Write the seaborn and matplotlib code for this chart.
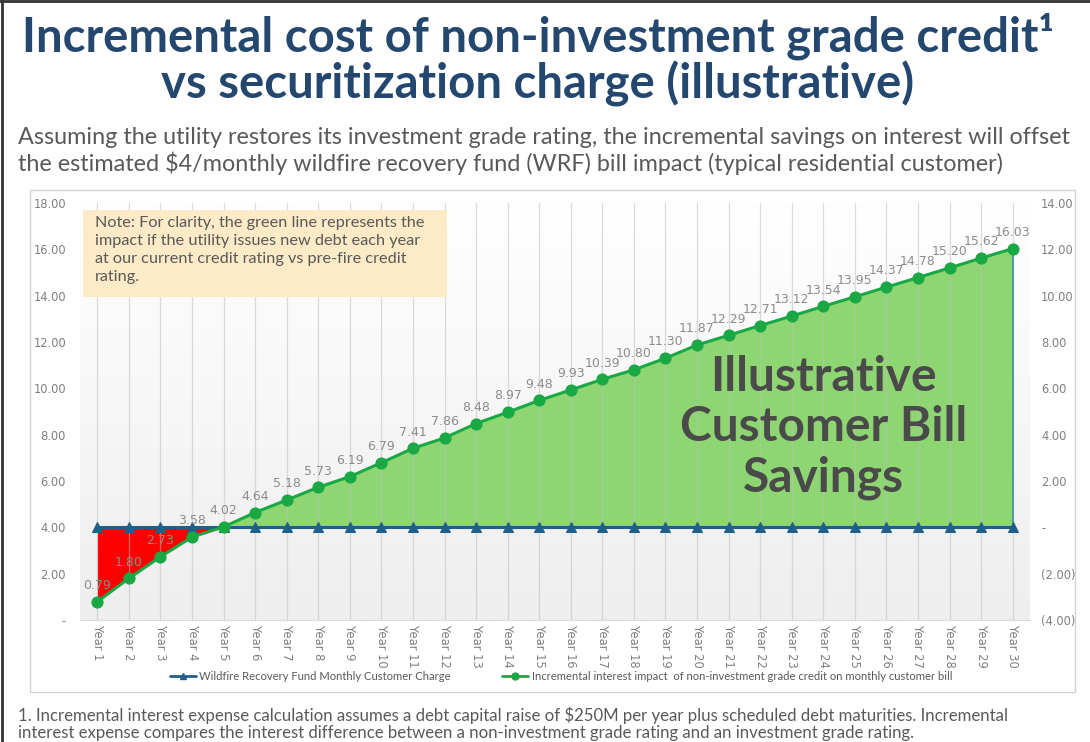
import numpy as np
import matplotlib.pyplot as plt
import seaborn as sns
from matplotlib.colors import LinearSegmentedColormap
from matplotlib.patches import Rectangle
from matplotlib.lines import Line2D

# data
years = list(range(1, 31))
year_labels = ["Year %d" % y for y in years]
wrf_charge = [4.00, 4.00, 4.00, 4.00, 4.00, 4.00, 4.00, 4.00, 4.00, 4.00,
              4.00, 4.00, 4.00, 4.00, 4.00, 4.00, 4.00, 4.00, 4.00, 4.00,
              4.00, 4.00, 4.00, 4.00, 4.00, 4.00, 4.00, 4.00, 4.00, 4.00]
interest_impact = [0.79, 1.80, 2.73, 3.58, 4.02, 4.64, 5.18, 5.73, 6.19, 6.79,
                   7.41, 7.86, 8.48, 8.97, 9.48, 9.93, 10.39, 10.80, 11.30, 11.87,
                   12.29, 12.71, 13.12, 13.54, 13.95, 14.37, 14.78, 15.20, 15.62, 16.03]
left_ticks = [0, 2, 4, 6, 8, 10, 12, 14, 16, 18]
left_labels = ["-", "2.00", "4.00", "6.00", "8.00", "10.00", "12.00", "14.00", "16.00", "18.00"]
right_ticks = [-4, -2, 0, 2, 4, 6, 8, 10, 12, 14]
right_labels = ["(4.00)", "(2.00)", "-", "2.00", "4.00", "6.00", "8.00", "10.00", "12.00", "14.00"]

sns.set_style("white")
plt.rcParams['font.family'] = ['Lato', 'DejaVu Sans']

BLUE = "#23476e"
LINE_BLUE = "#1f5f8b"
GREEN = "#1aa845"
FILL_GREEN = "#8dd672"
GREY = "#595959"

fig = plt.figure(figsize=(10.9, 7.42), dpi=100)
W, H = 1090, 742

def fx(px):
    return px / W

def fy(py):
    return 1 - py / H

# slide frame and chart panel
fig.add_artist(Line2D([0, 1], [fy(1), fy(1)], color="#333333", lw=2))
fig.add_artist(Line2D([fx(1.5), fx(1.5)], [0, 1], color="#333333", lw=2))
fig.add_artist(Rectangle((fx(30), fy(692)), fx(1075) - fx(30), fy(190) - fy(692),
                         facecolor="white", edgecolor="#d4d4d4", lw=1, zorder=0))

# titles
fig.text(fx(538), fy(36), "Incremental cost of non-investment grade credit\u00b9",
         ha="center", va="center", fontsize=34, fontweight="bold", color=BLUE)
fig.text(fx(538), fy(84), "vs securitization charge (illustrative)",
         ha="center", va="center", fontsize=34, fontweight="bold", color=BLUE)
fig.text(fx(18), fy(137), "Assuming the utility restores its investment grade rating, the incremental savings on interest will offset",
         ha="left", va="center", fontsize=16.8, color=GREY)
fig.text(fx(18), fy(163), "the estimated $4/monthly wildfire recovery fund (WRF) bill impact (typical residential customer)",
         ha="left", va="center", fontsize=16.8, color=GREY)

# footnote
fig.text(fx(18), fy(715), "1. Incremental interest expense calculation assumes a debt capital raise of $250M per year plus scheduled debt maturities. Incremental",
         ha="left", va="center", fontsize=12.1, color=GREY)
fig.text(fx(18), fy(733), "interest expense compares the interest difference between a non-investment grade rating and an investment grade rating.",
         ha="left", va="center", fontsize=12.1, color=GREY)

ax = fig.add_axes([fx(80), fy(620), fx(1030) - fx(80), fy(203) - fy(620)])
x0, x1 = 0.45, 30.55

# soft gradient background, white at the top
cmap = LinearSegmentedColormap.from_list("bg", ["#ffffff", "#eeeeee"])
ax.imshow(np.linspace(0, 1, 256)[:, None], cmap=cmap, extent=(x0, x1, 0, 18),
          aspect="auto", zorder=0, origin="upper")
ax.set_xlim(x0, x1)
ax.set_ylim(0, 18)

imp = np.array(interest_impact)
wrf = np.array(wrf_charge)
ax.fill_between(years, imp, wrf, where=imp <= wrf, interpolate=True,
                color="#ff0000", lw=0, zorder=1)
ax.fill_between(years, imp, wrf, where=imp >= wrf, interpolate=True,
                color=FILL_GREEN, lw=0, zorder=1)
for y in years:
    ax.axvline(y, color="#bfbfbf", lw=0.9, alpha=0.55, zorder=2)
ax.vlines(years[-1], wrf[-1], imp[-1], color="#3a8fa8", lw=1.2, zorder=2)

sns.lineplot(x=years, y=wrf_charge, ax=ax, color=LINE_BLUE, lw=2.2, marker="^",
             markersize=7, markeredgecolor=LINE_BLUE, zorder=3)
sns.lineplot(x=years, y=interest_impact, ax=ax, color=GREEN, lw=2.2, marker="o",
             markersize=8, markeredgecolor=GREEN, zorder=4)

for x, v in zip(years, interest_impact):
    ax.annotate("%.2f" % v, (x, v), xytext=(0, 7), textcoords="offset points",
                ha="center", va="bottom", fontsize=9, color="#8c8c8c",
                family=["DejaVu Sans"], zorder=5)

ax.set_yticks(left_ticks)
ax.set_yticklabels(left_labels, family=["DejaVu Sans"])
ax.set_xticks(years)
ax.set_xticklabels(year_labels, rotation=-90, family=["DejaVu Sans"])
ax.tick_params(axis="both", length=0, labelsize=8.3, labelcolor="#7f7f7f")
ax.tick_params(axis="y", pad=10)
for s in ["top", "left", "right"]:
    ax.spines[s].set_visible(False)
ax.spines["bottom"].set_color("#d9d9d9")

ax2 = ax.twinx()
ax2.set_ylim(-4, 14)
ax2.set_yticks(right_ticks)
ax2.set_yticklabels(right_labels, family=["DejaVu Sans"])
ax2.tick_params(axis="y", length=0, labelsize=8.3, labelcolor="#7f7f7f", pad=8)
for s in ax2.spines.values():
    s.set_visible(False)

# note box
ax.add_patch(Rectangle((0.55, 13.95), 11.53, 3.75, facecolor="#fcebc6",
                       edgecolor="none", zorder=6))
ax.text(0.93, 17.45, "Note: For clarity, the green line represents the\nimpact if the utility issues new debt each year\n"
        "at our current credit rating vs pre-fire credit\nrating.",
        ha="left", va="top", fontsize=11.7, color=GREY, linespacing=1.38, zorder=7)

# big overlay text
ax.text(24.0, 8.3, "Illustrative\nCustomer Bill\nSavings", ha="center", va="center",
        fontsize=34.5, fontweight="bold", color="#4a4a4a", linespacing=1.17, zorder=6)

# legend
handles = [Line2D([], [], color=LINE_BLUE, lw=2, marker="^", markersize=5),
           Line2D([], [], color=GREEN, lw=2, marker="o", markersize=5)]
fig.legend(handles, ["Wildfire Recovery Fund Monthly Customer Charge",
                     "Incremental interest impact  of non-investment grade credit on monthly customer bill"],
           loc="center", bbox_to_anchor=(fx(561), fy(676)), ncol=2, frameon=False,
           fontsize=8.1, labelcolor=GREY, columnspacing=4.6, handlelength=2.3, handletextpad=0.3)

fig.savefig("out.png", dpi=100)
